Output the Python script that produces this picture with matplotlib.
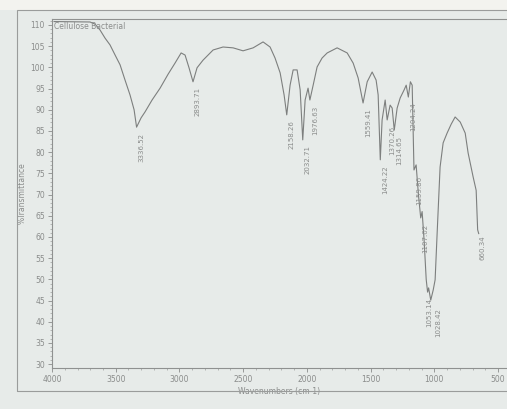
import matplotlib
matplotlib.use('Agg')
import matplotlib.pyplot as plt
from matplotlib.patches import Rectangle
from matplotlib.ticker import MultipleLocator
import numpy as np

# spectrum (wavenumber, %T)
wavenumber = [3984, 3702, 3662, 3623, 3584, 3545, 3505, 3466, 3427, 3388, 3356,
              3336.52, 3301, 3270, 3215, 3152, 3089, 3035, 2987, 2956, 2925,
              2893.71, 2862, 2815, 2736, 2658, 2579, 2501, 2422, 2344, 2289,
              2250, 2210, 2179, 2158.26, 2132, 2108, 2077, 2053, 2032.71, 2014,
              1991, 1976.63, 1951, 1920, 1881, 1841, 1763, 1684, 1637, 1598,
              1559.41, 1527, 1488, 1457, 1441, 1424.22, 1410, 1386, 1370.26,
              1347, 1331, 1314.65, 1292, 1268, 1237, 1221, 1204.24, 1188, 1174,
              1159.86, 1143, 1125, 1107.02, 1096, 1080, 1064, 1053.14, 1045,
              1028.42, 1009, 994, 978, 955, 931, 900, 868, 837, 797, 758, 735,
              696, 672, 660.34, 652]
transmittance = [110.8, 110.7, 110.2, 108.8, 106.9, 105.3, 102.9, 100.6, 97.0, 93.5, 90.0,
                 85.9, 88.1, 89.5, 92.3, 95.1, 98.4, 101.0, 103.4, 102.9, 99.9,
                 96.6, 99.9, 101.7, 104.1, 104.8, 104.6, 103.9, 104.6, 106.0, 104.8,
                 102.2, 98.7, 93.5, 88.8, 95.8, 99.4, 99.4, 94.7, 82.9, 92.3,
                 95.1, 92.3, 95.8, 100.1, 102.2, 103.4, 104.6, 103.4, 101.0, 97.5,
                 91.6, 96.6, 98.9, 97.0, 93.5, 78.2, 87.6, 92.3, 87.6,
                 91.1, 90.4, 85.2, 90.4, 92.8, 94.7, 95.8, 93.0, 96.6, 95.8,
                 75.8, 77.0, 70.0, 64.5, 66.0, 59.0, 50.0, 47.0, 48.0,
                 45.1, 47.5, 49.9, 61.0, 76.5, 82.2, 84.5, 86.6, 88.3, 87.1, 84.5, 79.8,
                 74.2, 71.0, 61.7, 60.8]

peak_labels = ['3336.52', '2893.71', '2158.26', '2032.71', '1976.63', '1559.41',
               '1424.22', '1370.26', '1314.65', '1204.24', '1159.86', '1107.02',
               '1053.14', '1028.42', '660.34']

bg = '#e7ebe9'
line_col = '#7d7f7e'
txt_col = '#8a8c8b'

fig = plt.figure(figsize=(5.07, 4.09), dpi=100, facecolor=bg)
fig.patches.append(Rectangle((0, 0.976), 1, 0.024, transform=fig.transFigure,
                             facecolor='#f3f3ef', edgecolor='none', zorder=0))
fig.patches.append(Rectangle((0.0335, 0.044), 1.0, 0.932, transform=fig.transFigure,
                             facecolor='none', edgecolor='#9a9c9b', lw=0.8, zorder=1))

ax = fig.add_axes([0.1026, 0.1002, 0.8974, 0.8533])
ax.set_facecolor(bg)
ax.plot(wavenumber, transmittance, color=line_col, lw=0.8)

ax.set_xlim(4000, 430)
ax.set_ylim(29.1, 111.4)
ax.xaxis.set_major_locator(MultipleLocator(500))
ax.xaxis.set_minor_locator(MultipleLocator(100))
ax.yaxis.set_major_locator(MultipleLocator(5))
ax.yaxis.set_minor_locator(MultipleLocator(1))
ax.tick_params(axis='both', which='major', labelsize=5.5, colors=txt_col,
               length=3, width=0.6, pad=2)
ax.tick_params(axis='both', which='minor', length=1.5, width=0.4, colors=txt_col)
for s in ax.spines.values():
    s.set_color('#8f9190')
    s.set_linewidth(0.8)
ax.spines['right'].set_visible(False)

ax.set_xlabel('Wavenumbers (cm-1)', fontsize=5.5, color=txt_col, labelpad=2)
ax.set_ylabel('%Transmittance', fontsize=5.5, color=txt_col, labelpad=3)
ax.text(0.004, 0.992, 'Cellulose Bacterial', transform=ax.transAxes, fontsize=5.5,
        color=txt_col, ha='left', va='top')

# peak labels, rotated, just under each peak
shift = {'1053.14': (1.5, -4), '1028.42': (5.5, -6)}
for lab in peak_labels:
    w = float(lab)
    t = transmittance[wavenumber.index(w)]
    ax.annotate(lab, (w, t), xytext=shift.get(lab, (3.5, -4)), textcoords='offset points',
                rotation=90, ha='center', va='top', fontsize=5, color=txt_col)

fig.savefig('out.png', dpi=100, facecolor=bg)
